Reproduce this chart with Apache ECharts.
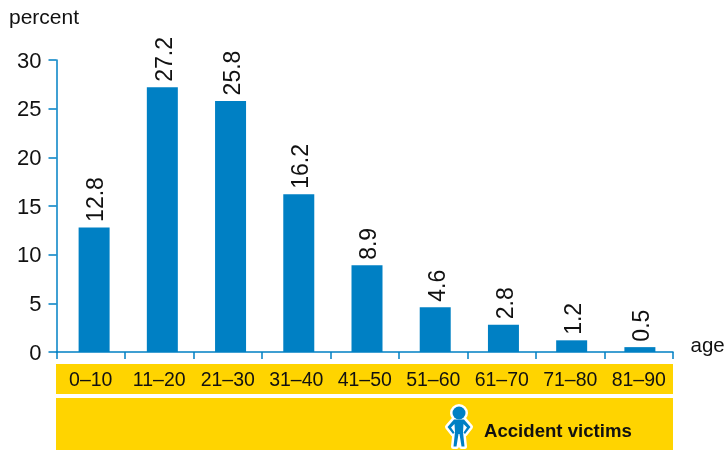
<!DOCTYPE html>
<html><head><meta charset="utf-8">
<style>html,body{margin:0;padding:0;background:#fff}#c{width:728px;height:450px}</style>
<script src="https://cdn.jsdelivr.net/npm/echarts@6/dist/echarts.min.js"></script>
</head><body><div id="c"></div>
<script>
const categories = ['0–10','11–20','21–30','31–40','41–50','51–60','61–70','71–80','81–90'];
const percentValues = [12.8,27.2,25.8,16.2,8.9,4.6,2.8,1.2,0.5];
const yTicks = {min:0,max:30,interval:5};
const BLUE='#0080c4', YELLOW='#ffd400', FONT='"Liberation Sans", Arial, sans-serif';
const body=[[454,419.5],[464,419.5],[470.5,427],[465,434],[463.5,432.5],[467,427.5],[463.5,424],[463,432],[464.5,446.5],[461.5,446.5],[459.5,434],[458.5,434],[456.5,446.5],[453.5,446.5],[455,432],[454.5,424],[451,427.5],[454.5,432.5],[453,434],[447.5,427]];
const chart=echarts.init(document.getElementById('c'),null,{renderer:'canvas'});
chart.setOption({
  animation:false,
  backgroundColor:'#fff',
  grid:[
    {left:56.5,top:60,width:616.5,height:292},
    {left:60,top:60,width:614,height:292}
  ],
  xAxis:[
    {gridIndex:0,type:'category',data:categories,boundaryGap:true,
     axisLine:{lineStyle:{color:BLUE,width:1.5}},
     axisTick:{show:true,length:7,alignWithLabel:false,lineStyle:{color:BLUE,width:1.5}},
     axisLabel:{interval:0,margin:19,color:'#111',fontFamily:FONT,fontSize:19.5,hideOverlap:false},z:5},
    {gridIndex:1,type:'category',data:categories,show:false}
  ],
  yAxis:[
    {gridIndex:0,type:'value',...yTicks,
     axisLine:{show:true,lineStyle:{color:BLUE,width:1.5}},
     axisTick:{show:true,length:8,lineStyle:{color:BLUE,width:1.5}},
     splitLine:{show:false},
     axisLabel:{margin:15,formatter:'{t|{value}}',rich:{t:{color:'#111',fontFamily:FONT,fontSize:22,padding:[3,0,0,0]}}},z:5},
    {gridIndex:1,type:'value',...yTicks,show:false}
  ],
  series:[{
    type:'bar',xAxisIndex:1,yAxisIndex:1,data:percentValues,barWidth:31,z:3,
    itemStyle:{color:BLUE},
    label:{show:true,position:'top',rotate:90,distance:5.5,offset:[0,3],color:'#111',fontFamily:FONT,fontSize:23,
      align:'left',verticalAlign:'middle',formatter:p=>p.value.toFixed(1)}
  }],
  graphic:[
    {type:'rect',z:-10,silent:true,shape:{x:56,y:364,width:617,height:30},style:{fill:YELLOW}},
    {type:'rect',z:-10,silent:true,shape:{x:56,y:398,width:617,height:52},style:{fill:YELLOW}},
    {type:'text',z:10,x:9,y:8,style:{text:'percent',fill:'#111',font:'21px '+FONT}},
    {type:'text',z:10,x:690.5,y:336,style:{text:'age',fill:'#111',font:'20.5px '+FONT}},
    {type:'text',z:10,x:484,y:422,style:{text:'Accident victims',fill:'#111',font:'bold 18.6px '+FONT}},
    {type:'circle',z:10,shape:{cx:459,cy:413,r:6.5},style:{fill:'#fff',stroke:'#fff',lineWidth:5}},
    {type:'polygon',z:10,shape:{points:body},style:{fill:'#fff',stroke:'#fff',lineWidth:5,lineJoin:'round'}},
    {type:'circle',z:11,shape:{cx:459,cy:413,r:6.5},style:{fill:BLUE}},
    {type:'polygon',z:11,shape:{points:body},style:{fill:BLUE}}
  ]
});
</script></body></html>
